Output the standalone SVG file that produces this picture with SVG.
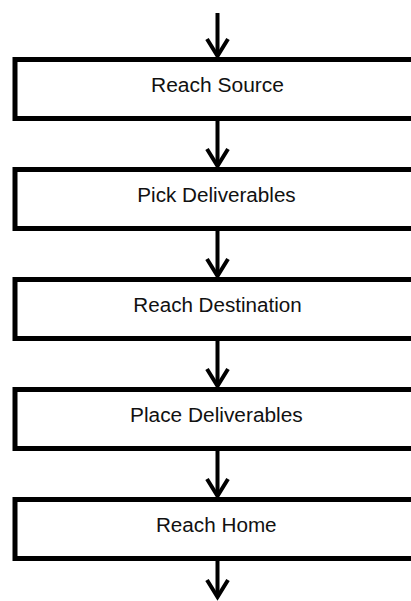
<svg xmlns="http://www.w3.org/2000/svg" width="411" height="601" viewBox="0 0 411 601">
<style>
.box{fill:#fff;stroke:#000;stroke-width:5}
.lbl{font-family:"Liberation Sans",Arial,sans-serif;font-size:19.5px;fill:#111;text-anchor:middle}
.conn{stroke:#000;stroke-width:4;fill:none}
</style>
<defs>
<marker id="arr" markerUnits="userSpaceOnUse" orient="auto" refX="0" refY="0" markerWidth="30" markerHeight="30" overflow="visible">
<path d="M-17,-10.5 L0,0 L-17,10.5" fill="none" stroke="#000" stroke-width="4" stroke-linejoin="miter"/>
</marker>
</defs>
<rect width="411" height="601" fill="#fff"/>
<g id="connectors">
<line class="conn" x1="217.5" y1="13" x2="217.5" y2="56" marker-end="url(#arr)"/>
<line class="conn" x1="217.5" y1="118.5" x2="217.5" y2="166" marker-end="url(#arr)"/>
<line class="conn" x1="217.5" y1="228.5" x2="217.5" y2="276" marker-end="url(#arr)"/>
<line class="conn" x1="217.5" y1="338.5" x2="217.5" y2="386" marker-end="url(#arr)"/>
<line class="conn" x1="217.5" y1="448.5" x2="217.5" y2="496" marker-end="url(#arr)"/>
<line class="conn" x1="217.5" y1="558.5" x2="217.5" y2="597" marker-end="url(#arr)"/>
</g>
<g id="reach-source">
<rect class="box" x="15" y="59.5" width="420" height="59"/>
<text class="lbl" x="217.5" y="92.3" textLength="133" lengthAdjust="spacingAndGlyphs">Reach Source</text>
</g>
<g id="pick-deliverables">
<rect class="box" x="15" y="169.5" width="420" height="59"/>
<text class="lbl" x="216.5" y="202.3" textLength="158.4" lengthAdjust="spacingAndGlyphs">Pick Deliverables</text>
</g>
<g id="reach-destination">
<rect class="box" x="15" y="279.5" width="420" height="59"/>
<text class="lbl" x="217.5" y="312.3" textLength="168.3" lengthAdjust="spacingAndGlyphs">Reach Destination</text>
</g>
<g id="place-deliverables">
<rect class="box" x="15" y="389.5" width="420" height="59"/>
<text class="lbl" x="216.4" y="422.3" textLength="172.7" lengthAdjust="spacingAndGlyphs">Place Deliverables</text>
</g>
<g id="reach-home">
<rect class="box" x="15" y="499.5" width="420" height="59"/>
<text class="lbl" x="216.3" y="532.3" textLength="120.7" lengthAdjust="spacingAndGlyphs">Reach Home</text>
</g>
</svg>
